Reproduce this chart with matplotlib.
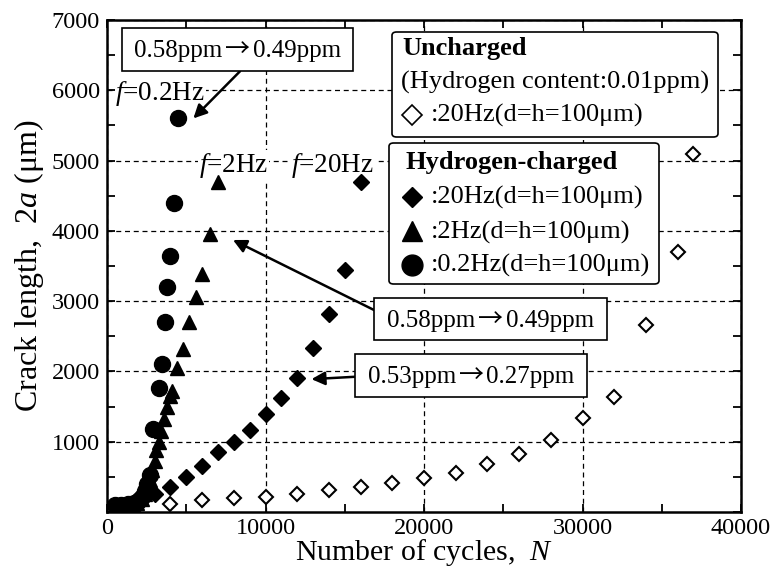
import matplotlib.pyplot as plt
from matplotlib.patches import Rectangle, FancyBboxPatch
from matplotlib.ticker import MultipleLocator

plt.rcParams['font.family'] = ['Liberation Serif', 'DejaVu Serif']
plt.rcParams['mathtext.fontset'] = 'custom'
plt.rcParams['mathtext.rm'] = 'Liberation Serif'
plt.rcParams['mathtext.it'] = 'Liberation Serif:italic'

# --- data (N cycles, crack length 2a in um) ---
unch_20hz_N = [2000, 4000, 6000, 8000, 10000, 12000, 14000, 16000, 18000, 20000,
               22000, 24000, 26000, 28000, 30000, 32000, 34000, 36000, 37000]
unch_20hz_a = [100, 115, 170, 195, 220, 250, 310, 350, 410, 480,
               560, 690, 830, 1020, 1340, 1640, 2660, 3700, 5100]

h_20hz_N = [3000, 4000, 5000, 6000, 7000, 8000, 9000, 10000, 11000, 12000,
            13000, 14000, 15000, 16000]
h_20hz_a = [250, 350, 500, 650, 850, 1000, 1170, 1400, 1620, 1900,
            2330, 2810, 3450, 4700]

h_2hz_N = [1500, 1900, 2200, 2400, 2550, 2700, 2850, 3000, 3100, 3250, 3400,
           3600, 3800, 4000, 4100, 4400, 4800, 5200, 5600, 6000, 6500, 7000]
h_2hz_a = [100, 130, 180, 260, 350, 460, 600, 730, 880, 1000, 1150,
           1330, 1500, 1650, 1720, 2050, 2320, 2700, 3060, 3380, 3950, 4700]

h_02hz_N = [500, 900, 1300, 1700, 2000, 2200, 2400, 2550, 2700, 2900,
            3250, 3450, 3650, 3800, 4000, 4200, 4500]
h_02hz_a = [100, 105, 115, 135, 170, 220, 300, 400, 520, 1180,
            1770, 2110, 2710, 3200, 3640, 4400, 5600]

x_ticks = [0, 10000, 20000, 30000, 40000]
y_ticks = [1000, 2000, 3000, 4000, 5000, 6000, 7000]

W, H = 773, 571


def fx(x):
    return x / W


def fy(y):
    return 1 - y / H


fig = plt.figure(figsize=(W / 100, H / 100), dpi=100)
ax = fig.add_axes([fx(107), fy(512), fx(741) - fx(107), fy(20) - fy(512)])

# --- series ---
ax.plot(unch_20hz_N, unch_20hz_a, 'D', ms=7, mfc='white', mec='black', mew=1.5, zorder=3)
ax.plot(h_20hz_N, h_20hz_a, 'D', ms=8.5, color='black', zorder=3)
ax.plot(h_2hz_N, h_2hz_a, '^', ms=10.5, color='black', zorder=3)
ax.plot(h_02hz_N, h_02hz_a, 'o', ms=11.5, color='black', zorder=3)

ax.set_xlim(0, 40000)
ax.set_ylim(0, 7000)
ax.set_xticks(x_ticks)
ax.set_yticks(y_ticks)
ax.xaxis.set_minor_locator(MultipleLocator(5000))
ax.yaxis.set_minor_locator(MultipleLocator(500))
ax.tick_params(which='both', direction='in', top=True, right=True,
               length=6, width=1.3, labelsize=17.5, pad=5)
ax.tick_params(axis='x', pad=4)
for sp in ax.spines.values():
    sp.set_linewidth(1.8)
ax.set_axisbelow(True)
ax.grid(True, which='major', ls=(0, (4, 3)), color='black', lw=0.9)

ax.set_xlabel("Number of cycles,  $N$", fontsize=21.5, labelpad=-1)
ax.set_ylabel("Crack length,  2$a$ (μm)", fontsize=23, labelpad=4)

# --- frequency labels ---
tb = dict(facecolor='white', edgecolor='none', pad=0.5)
ax.text(530, 5960, "$f$=0.2Hz", fontsize=19.5, va='center', ha='left', bbox=tb, zorder=2)
ax.text(5800, 4935, "$f$=2Hz", fontsize=19.5, va='center', ha='left', bbox=tb, zorder=2)
ax.text(11640, 4935, "$f$=20Hz", fontsize=19.5, va='center', ha='left', bbox=tb, zorder=2)

# --- hydrogen content boxes with arrows ---
arrow = dict(arrowstyle='-|>', lw=1.8, color='black', mutation_scale=20,
             shrinkA=0, shrinkB=0)
ax.annotate('', xy=(5450, 5600), xytext=(8390, 6270), arrowprops=arrow, zorder=5)
ax.annotate('', xy=(7950, 3870), xytext=(16880, 2870), arrowprops=arrow, zorder=5)
ax.annotate('', xy=(12900, 1890), xytext=(15730, 1925), arrowprops=arrow, zorder=5)


def text_box(x0, y0, x1, y1, before, after):
    fig.add_artist(Rectangle((fx(x0), fy(y1)), fx(x1) - fx(x0), fy(y0) - fy(y1),
                             transform=fig.transFigure, fc='white', ec='black', lw=1.2))
    xc = (x0 + x1) / 2
    yb = (y0 + y1) / 2 + 8
    fig.text(fx(xc - 15), fy(yb), before, fontsize=18, ha='right', va='baseline')
    fig.text(fx(xc), fy(yb), "→", fontsize=18, family='Noto Sans CJK JP',
             ha='center', va='baseline')
    fig.text(fx(xc + 15), fy(yb), after, fontsize=18, ha='left', va='baseline')


text_box(122, 28, 353, 71, "0.58ppm", "0.49ppm")
text_box(374, 298, 607, 340, "0.58ppm", "0.49ppm")
text_box(355, 354, 587, 397, "0.53ppm", "0.27ppm")


# --- legend boxes ---
def round_box(x0, y0, x1, y1):
    fig.add_artist(FancyBboxPatch((fx(x0), fy(y1)), fx(x1) - fx(x0), fy(y0) - fy(y1),
                                  boxstyle="round,pad=0,rounding_size=0.006",
                                  transform=fig.transFigure, fc='white', ec='black', lw=1.2))


def legend_marker(x, y, **kw):
    fig.add_artist(plt.Line2D([fx(x)], [fy(y)], transform=fig.transFigure, **kw))


round_box(392, 32, 718, 137)
fig.text(fx(402), fy(49), "Uncharged", fontsize=19, fontweight='bold', va='center')
fig.text(fx(401), fy(82), "(Hydrogen content:0.01ppm)", fontsize=19, va='center')
legend_marker(411.5, 115, marker='D', ms=10, mfc='white', mec='black', mew=1.2)
fig.text(fx(431), fy(115), ":20Hz(d=h=100μm)", fontsize=19, va='center')

round_box(389, 143, 659, 284)
fig.text(fx(406), fy(162), "Hydrogen-charged", fontsize=19, fontweight='bold', va='center')
legend_marker(411.5, 197, marker='D', ms=10.5, color='black')
fig.text(fx(431), fy(197), ":20Hz(d=h=100μm)", fontsize=19, va='center')
legend_marker(411.5, 231, marker='^', ms=15, color='black')
fig.text(fx(431), fy(232), ":2Hz(d=h=100μm)", fontsize=19, va='center')
legend_marker(411.5, 265, marker='o', ms=15, color='black')
fig.text(fx(431), fy(265), ":0.2Hz(d=h=100μm)", fontsize=19, va='center')

fig.savefig("out.png", dpi=100)
